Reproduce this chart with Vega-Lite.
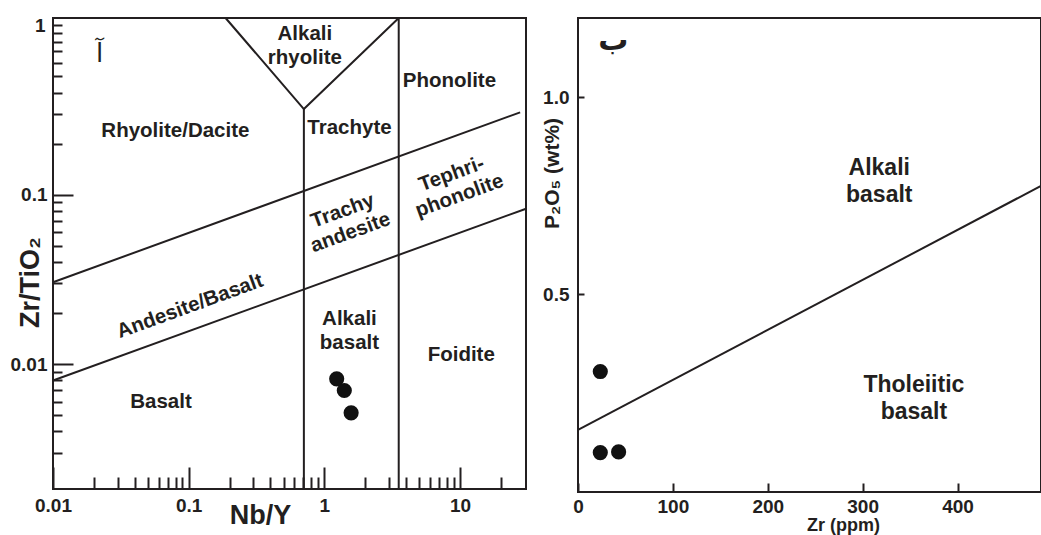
{
  "$schema": "https://vega.github.io/schema/vega-lite/v6.json",
  "padding": {"left": 9, "top": 13, "right": 0, "bottom": 0},
  "bounds": "flush",
  "spacing": 52,
  "background": "white",
  "datasets": {
    "wfLines": [
      {"seg": "V", "ord": 1, "x": 0.187, "y": 1.103},
      {"seg": "V", "ord": 2, "x": 0.706, "y": 0.32},
      {"seg": "V", "ord": 3, "x": 3.53, "y": 1.103},
      {"seg": "v1", "ord": 1, "x": 0.706, "y": 0.32},
      {"seg": "v1", "ord": 2, "x": 0.706, "y": 0.00183},
      {"seg": "v2", "ord": 1, "x": 3.53, "y": 1.103},
      {"seg": "v2", "ord": 2, "x": 3.53, "y": 0.00183},
      {"seg": "up", "ord": 1, "x": 0.01, "y": 0.0304},
      {"seg": "up", "ord": 2, "x": 27.7, "y": 0.306},
      {"seg": "lo", "ord": 1, "x": 0.01, "y": 0.008},
      {"seg": "lo", "ord": 2, "x": 30.6, "y": 0.0826}
    ],
    "wfPts": [
      {"x": 1.232, "y": 0.00818},
      {"x": 1.402, "y": 0.00698},
      {"x": 1.574, "y": 0.00515}
    ],
    "wfLbl": [
      {"t": "Alkali\nrhyolite", "x": 0.718, "y": 0.887},
      {"t": "Rhyolite/Dacite", "x": 0.0798, "y": 0.2386},
      {"t": "Trachyte", "x": 1.53, "y": 0.249},
      {"t": "Phonolite", "x": 8.34, "y": 0.471},
      {"t": "Alkali\nbasalt", "x": 1.53, "y": 0.0185},
      {"t": "Foidite", "x": 10.2, "y": 0.01138},
      {"t": "Basalt", "x": 0.0625, "y": 0.00595}
    ],
    "wfLblRot": [
      {"t": "Tephri-\nphonolite", "x": 8.66, "y": 0.1318},
      {"t": "Trachy\nandesite", "x": 1.365, "y": 0.08},
      {"t": "Andesite/Basalt", "x": 0.1023, "y": 0.0219}
    ],
    "wfAr": [
      {"t": "آ", "x": 0.0221, "y": 0.676}
    ],
    "fwLine": [
      {"x": 0, "y": 0.157},
      {"x": 488, "y": 0.775}
    ],
    "fwPts": [
      {"x": 23.5, "y": 0.305},
      {"x": 23.5, "y": 0.0998},
      {"x": 42.8, "y": 0.1015}
    ],
    "fwLbl": [
      {"t": "Alkali\nbasalt", "x": 317.5, "y": 0.821},
      {"t": "Tholeiitic\nbasalt", "x": 354, "y": 0.271}
    ],
    "fwAr": [
      {"t": "ب", "x": 37.2, "y": 1.142}
    ]
  },
  "config": {
    "view": {"stroke": "#231f20", "strokeWidth": 2},
    "axis": {
      "domain": false,
      "grid": false,
      "labelFont": "Liberation Sans",
      "labelFontWeight": "bold",
      "labelFontSize": 19,
      "labelColor": "#231f20",
      "tickColor": "#231f20",
      "tickWidth": 2,
      "titleFont": "Liberation Sans",
      "titleFontWeight": "bold",
      "titleColor": "#231f20",
      "labelOverlap": false
    }
  },
  "hconcat": [
    {
      "width": 473,
      "height": 471,
      "encoding": {
        "x": {
          "field": "x", "type": "quantitative",
          "scale": {"type": "log", "domain": [0.01, 30.6], "nice": false},
          "axis": {
            "values": [0.01,0.02,0.03,0.04,0.05,0.06,0.07,0.08,0.09,0.1,0.2,0.3,0.4,0.5,0.6,0.7,0.8,0.9,1,2,3,4,5,6,7,8,9,10,20],
            "tickSize": {"condition": {"test": "datum.value==0.01||datum.value==0.1||datum.value==1||datum.value==10", "value": -22}, "value": -12},
            "labelExpr": "datum.value==0.01?'0.01':datum.value==0.1?'0.1':datum.value==1?'1':datum.value==10?'10':''",
            "labelPadding": 29,
            "labelFlush": false,
            "title": "Nb/Y",
            "titleFontSize": 27,
            "titleX": 207,
            "titleY": 34.5,
            "titleBaseline": "alphabetic"
          }
        },
        "y": {
          "field": "y", "type": "quantitative",
          "scale": {"type": "log", "domain": [0.00183, 1.103], "nice": false},
          "axis": {
            "values": [0.003,0.004,0.005,0.006,0.007,0.008,0.009,0.01,0.02,0.03,0.04,0.05,0.06,0.07,0.08,0.09,0.1,0.2,0.3,0.4,0.5,0.6,0.7,0.8,0.9,1],
            "tickSize": {"condition": {"test": "datum.value==0.01||datum.value==0.1", "value": -20}, "value": -9},
            "labelExpr": "datum.value==1?'1':datum.value==0.1?'0.1':datum.value==0.01?'0.01':''",
            "labelPadding": {"condition": {"test": "datum.value==1", "value": 17}, "value": 26},
            "title": "Zr/TiO₂",
            "titleFontSize": 27,
            "titleX": -15,
            "titleY": 264,
            "titleBaseline": "alphabetic"
          }
        }
      },
      "layer": [
        {
          "data": {"name": "wfLines"},
          "mark": {"type": "line", "color": "#231f20", "strokeWidth": 2},
          "encoding": {"detail": {"field": "seg"}, "order": {"field": "ord"}}
        },
        {
          "data": {"name": "wfPts"},
          "mark": {"type": "circle", "size": 230, "color": "#111111", "opacity": 1}
        },
        {
          "data": {"name": "wfLbl"},
          "mark": {"type": "text", "font": "Liberation Sans", "fontWeight": "bold", "fontSize": 20.5, "lineHeight": 24, "lineBreak": "\n", "color": "#231f20", "align": "center", "baseline": "middle"},
          "encoding": {"text": {"field": "t"}}
        },
        {
          "data": {"name": "wfLblRot"},
          "mark": {"type": "text", "font": "Liberation Sans", "fontWeight": "bold", "fontSize": 20.5, "lineHeight": 23, "lineBreak": "\n", "color": "#231f20", "align": "center", "baseline": "middle", "angle": 340},
          "encoding": {"text": {"field": "t"}}
        },
        {
          "data": {"name": "wfAr"},
          "mark": {"type": "text", "font": "DejaVu Sans", "fontSize": 26, "color": "#231f20", "align": "center", "baseline": "middle"},
          "encoding": {"text": {"field": "t"}}
        }
      ]
    },
    {
      "width": 463,
      "height": 474,
      "encoding": {
        "x": {
          "field": "x", "type": "quantitative",
          "scale": {"domain": [0, 488], "nice": false},
          "axis": {
            "values": [0, 100, 200, 300, 400],
            "tickSize": -9,
            "labelPadding": 14,
            "labelFlush": false,
            "title": "Zr (ppm)",
            "titleFontSize": 18,
            "titleX": 265,
            "titleY": 38,
            "titleBaseline": "alphabetic"
          }
        },
        "y": {
          "field": "y", "type": "quantitative",
          "scale": {"domain": [0, 1.2], "nice": false},
          "axis": {
            "values": [0.5, 1.0],
            "format": ".1f",
            "tickSize": -6,
            "labelPadding": 15,
            "title": "P₂O₅ (wt%)",
            "titleFontSize": 21,
            "titleX": -20,
            "titleY": 155,
            "titleBaseline": "alphabetic"
          }
        }
      },
      "layer": [
        {
          "data": {"name": "fwLine"},
          "mark": {"type": "line", "color": "#231f20", "strokeWidth": 2},
          "encoding": {}
        },
        {
          "data": {"name": "fwPts"},
          "mark": {"type": "circle", "size": 230, "color": "#111111", "opacity": 1}
        },
        {
          "data": {"name": "fwLbl"},
          "mark": {"type": "text", "font": "Liberation Sans", "fontWeight": "bold", "fontSize": 23, "lineHeight": 27, "lineBreak": "\n", "color": "#231f20", "align": "center", "baseline": "middle"},
          "encoding": {"text": {"field": "t"}}
        },
        {
          "data": {"name": "fwAr"},
          "mark": {"type": "text", "font": "DejaVu Sans", "fontWeight": "bold", "fontSize": 30, "color": "#231f20", "align": "center", "baseline": "middle"},
          "encoding": {"text": {"field": "t"}}
        }
      ]
    }
  ]
}
